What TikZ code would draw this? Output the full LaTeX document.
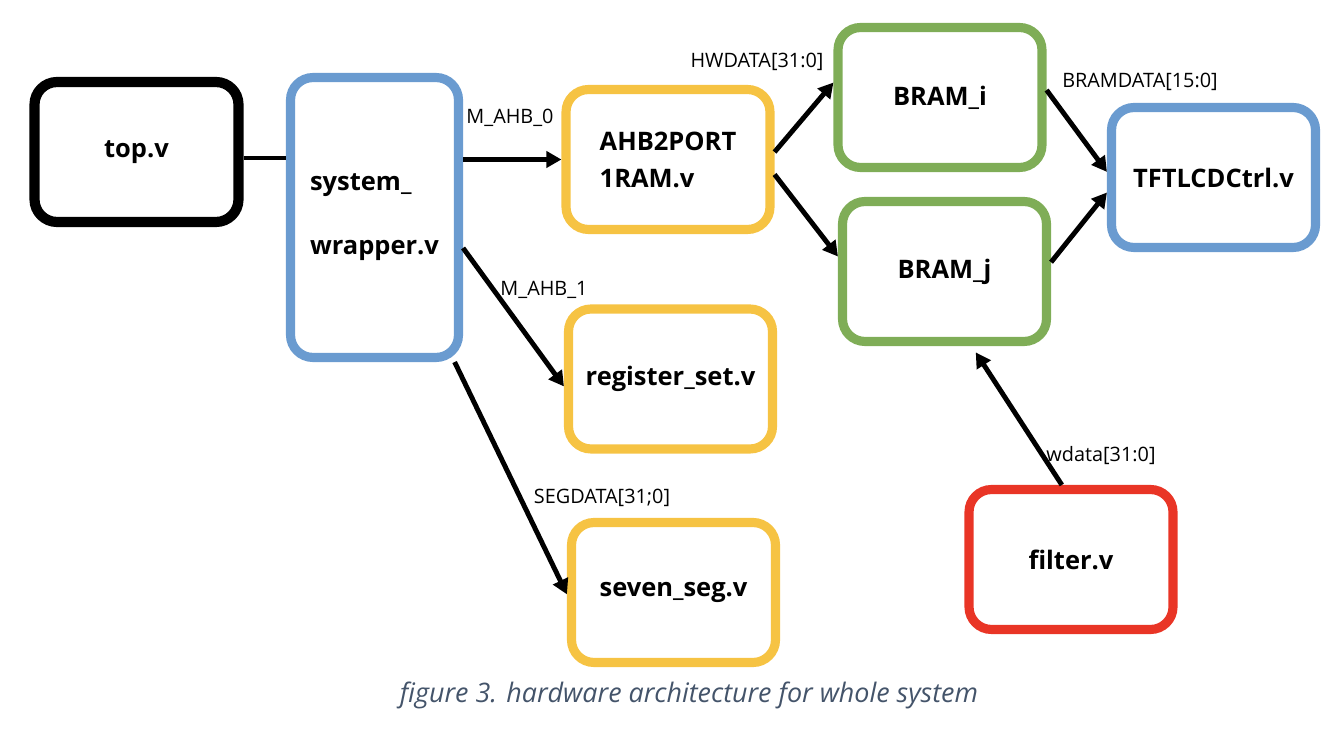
\documentclass[tikz,border=0pt]{standalone}
\usepackage{fontspec}
\setmainfont{Open Sans}
\usetikzlibrary{arrows.meta}

\definecolor{wrapblue}{RGB}{106,155,208}
\definecolor{modyellow}{RGB}{246,195,67}
\definecolor{bramgreen}{RGB}{127,173,87}
\definecolor{filtred}{RGB}{233,53,38}
\definecolor{capgray}{RGB}{68,84,106}

\begin{document}
\begin{tikzpicture}[x=0.02cm, y=-0.02cm,
    box/.style={draw, rounded corners=0.45cm, line width=5.2pt, minimum width=4.08cm, minimum height=2.8cm, font=\fontsize{14.5}{17.5}\selectfont\bfseries},
    arr/.style={line width=2.8pt, -{Triangle[length=0.3cm, width=0.32cm]}},
    lbl/.style={font=\fontsize{11.3}{13}\selectfont, inner sep=0pt}]
    \useasboundingbox (0,0) rectangle (1332,732);

    \node[box, line width=5.8pt] (top) at (136.5,152) {top.v};
    \node[box, draw=wrapblue, minimum width=3.36cm, minimum height=5.6cm, align=left] (sys) at (374.5,217.5) {system\_\\[19pt]wrapper.v};
    \node[box, draw=modyellow, align=left] (ahb) at (668,159.5) {AHB2PORT\\[3.5pt]1RAM.v};
    \node[box, draw=modyellow] (reg) at (670.5,379) {register\_set.v};
    \node[box, draw=modyellow] (seg) at (673.5,592.5) {seven\_seg.v};
    \node[box, draw=bramgreen] (bri) at (940,97.5) {BRAM\_i};
    \node[box, draw=bramgreen] (brj) at (944.5,271.5) {BRAM\_j};
    \node[box, draw=wrapblue] (tft) at (1213.5,177.5) {TFTLCDCtrl.v};
    \node[box, draw=filtred] (fil) at (1071,559.5) {filter.v};

    % 信号線
    \draw[line width=2.8pt] ([yshift=-0.12cm]top.east) -- ([yshift=-0.12cm]top.east -| sys.west);
    \draw[arr] (sys.east |- ahb.west) -- (ahb.west);
    \draw[arr] (ahb.4) -- (bri.172);
    \draw[arr] (ahb.-8) -- (brj.172);
    \draw[arr] (bri.4) -- (tft.177);
    \draw[arr] (brj.5) -- (tft.188);
    \draw[arr] (sys.-19) -- (reg.184);
    \draw[arr] (sys.-61) -- (seg.181);
    \draw[arr, shorten >=0.15cm] (fil.97) -- (brj.-70);

    \node[lbl] (l-ahb0) at (510,118) {M\_AHB\_0};
    \node[lbl] (l-hw) at (757,62) {HWDATA[31:0]};
    \node[lbl] (l-bram) at (1140,82) {BRAMDATA[15:0]};
    \node[lbl] (l-ahb1) at (544,290) {M\_AHB\_1};
    \node[lbl] (l-seg) at (602,498) {SEGDATA[31;0]};
    \node[lbl] (l-wd) at (1101,456) {wdata[31:0]};

    \node[font=\fontsize{15.3}{18}\selectfont\itshape, text=capgray] (cap) at (689,695) {figure 3. hardware architecture for whole system};
\end{tikzpicture}
\end{document}
